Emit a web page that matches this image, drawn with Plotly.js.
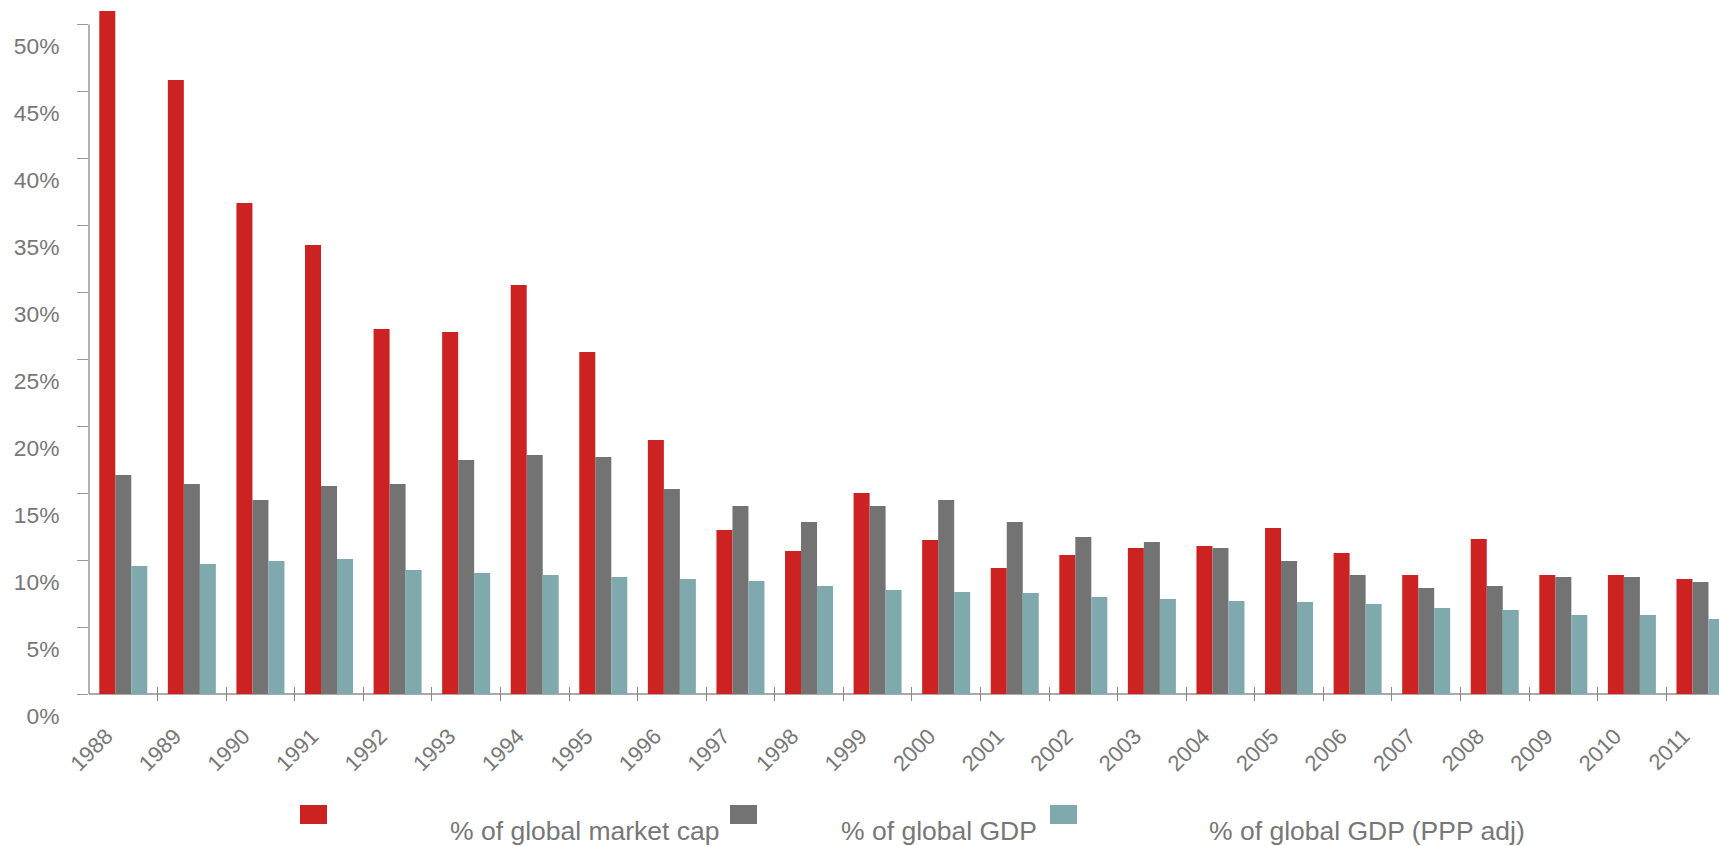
<!DOCTYPE html>
<html>
<head>
<meta charset="utf-8">
<script src="https://cdn.plot.ly/plotly-3.0.1.min.js"></script>
<style>
  html, body { margin: 0; padding: 0; background: #fff; }
  #chart { width: 1719px; height: 846px; }
</style>
</head>
<body>
<div id="chart"></div>
<script>
// Years on the category axis
const years = ['1988','1989','1990','1991','1992','1993','1994','1995','1996','1997','1998','1999',
               '2000','2001','2002','2003','2004','2005','2006','2007','2008','2009','2010','2011'];

// Share of world totals, in percent
const marketCapShare = [51.0, 45.86, 36.67, 33.53, 27.26, 27.04, 30.55, 25.54, 18.97, 12.25, 10.68, 15.01,
                        11.50, 9.41, 10.38, 10.90, 11.05, 12.40, 10.53, 8.89, 11.58, 8.89, 8.89, 8.59];
const gdpShare       = [16.36, 15.68, 14.49, 15.53, 15.68, 17.48, 17.85, 17.70, 15.31, 14.04, 12.85, 14.04,
                        14.49, 12.85, 11.73, 11.35, 10.90, 9.93, 8.89, 7.92, 8.07, 8.74, 8.74, 8.36];
const gdpPppShare    = [9.56, 9.71, 9.93, 10.08, 9.26, 9.04, 8.89, 8.74, 8.59, 8.44, 8.07, 7.77,
                        7.62, 7.54, 7.24, 7.09, 6.95, 6.87, 6.72, 6.42, 6.27, 5.90, 5.90, 5.60];

const seriesNames  = ['% of global market cap', '% of global GDP', '% of global GDP (PPP adj)'];
const seriesColors = ['#CC2222', '#737373', '#80A9AD'];
const seriesValues = [marketCapShare, gdpShare, gdpPppShare];

const FONT = 'Arial, "Liberation Sans", sans-serif';
const TEXT_GREY = '#777777';

const traces = seriesValues.map((vals, i) => ({
  type: 'bar',
  x: years,
  y: vals,
  name: seriesNames[i],
  marker: { color: seriesColors[i], line: { width: 0 } },
  hoverinfo: 'x+y+name'
}));

// Plot area in pixels (used to place the hand-built legend below the axis)
const W = 1719, H = 846;
const M = { l: 89, r: 0, t: 0, b: 145 };
const plotW = W - M.l - M.r, plotH = H - M.t - M.b;
const px2x = px => (px - M.l) / plotW;
const py2y = py => (H - M.b - py) / plotH;

// Legend: swatch left edge and label left edge for each series
const legendSwatchX = [300, 730, 1050];
const legendLabelX  = [448, 839, 1207];
const swatchW = 27, swatchTop = 805, swatchBottom = 824, labelMidY = 831;

const shapes = [
  // vertical value axis line, from 0% up to 50%
  { type: 'line', xref: 'paper', yref: 'y', x0: 0, x1: 0, y0: 0, y1: 50,
    line: { color: '#999999', width: 1.5 } }
];
const annotations = [];
seriesNames.forEach((name, i) => {
  shapes.push({
    type: 'rect', xref: 'paper', yref: 'paper',
    x0: px2x(legendSwatchX[i]), x1: px2x(legendSwatchX[i] + swatchW),
    y0: py2y(swatchBottom), y1: py2y(swatchTop),
    fillcolor: seriesColors[i], line: { width: 0 }
  });
  annotations.push({
    xref: 'paper', yref: 'paper',
    x: px2x(legendLabelX[i]), y: py2y(labelMidY),
    xanchor: 'left', yanchor: 'middle',
    text: name, showarrow: false,
    font: { family: FONT, size: 26.5, color: TEXT_GREY }
  });
});

const layout = {
  width: W, height: H,
  margin: M,
  paper_bgcolor: '#ffffff',
  plot_bgcolor: '#ffffff',
  barmode: 'group',
  bargap: 0.30,
  bargroupgap: 0,
  showlegend: false,
  font: { family: FONT, color: TEXT_GREY },
  xaxis: {
    type: 'category',
    range: [-0.5, 23.27],
    tickson: 'boundaries',
    ticks: 'inside',
    ticklen: 14,
    tickwidth: 1,
    tickcolor: '#888888',
    showline: false,
    showgrid: false,
    zeroline: false,
    tickangle: -45,
    ticklabelshift: -17,
    ticklabelstandoff: 17,
    tickfont: { family: FONT, size: 22, color: TEXT_GREY },
    automargin: false,
    fixedrange: true
  },
  yaxis: {
    range: [-0.523, 51.83],
    tick0: 0,
    dtick: 5,
    ticksuffix: '%',
    ticks: 'outside',
    ticklen: 11,
    tickwidth: 1,
    tickcolor: '#999999',
    showline: false,
    showgrid: false,
    zeroline: true,
    zerolinecolor: '#AAAAAA',
    zerolinewidth: 2,
    ticklabelshift: 22,
    ticklabelstandoff: 13,
    tickfont: { family: FONT, size: 22.8, color: TEXT_GREY },
    automargin: false,
    fixedrange: true
  },
  shapes: shapes,
  annotations: annotations
};

Plotly.newPlot('chart', traces, layout, { displayModeBar: false, staticPlot: true });
</script>
</body>
</html>
